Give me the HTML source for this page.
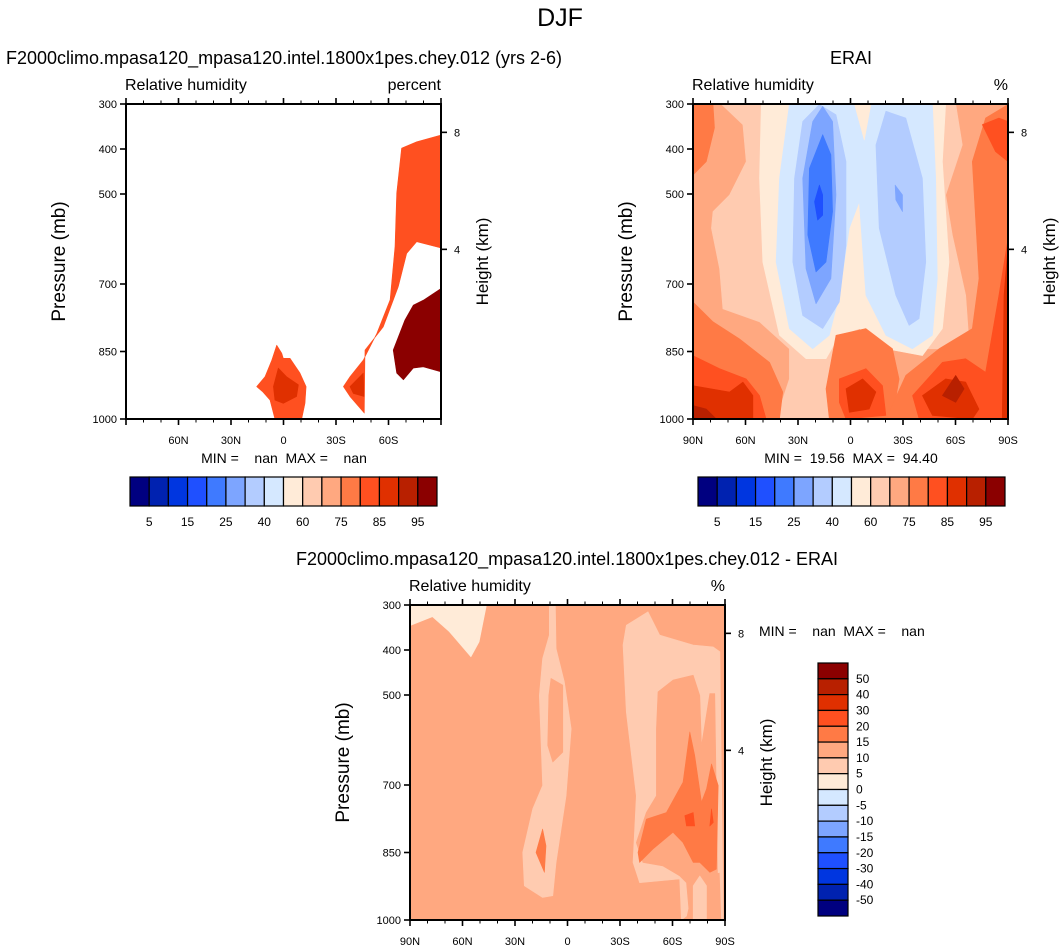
<!DOCTYPE html>
<html><head><meta charset="utf-8"><style>
html,body{margin:0;padding:0;background:#fff;}
svg{display:block;font-family:"Liberation Sans",sans-serif;}
</style></head><body>
<svg id="fig" width="1064" height="952" viewBox="0 0 1064 952" xmlns="http://www.w3.org/2000/svg">
<rect width="1064" height="952" fill="#fff"/>
<text x="560" y="26" font-size="25" text-anchor="middle">DJF</text>
</svg>
<script>
// ---- data ----
const rhLevels = ['5','15','25','40','60','75','85','95'];
const diffLevels = ['50','40','30','20','15','10','5','0','-5','-10','-15','-20','-30','-40','-50'];
const palette = ['#000080','#0022b0','#0036e0','#1f50ff','#3f7aff','#7da5ff','#b3ccff','#d5e8ff','#ffebd8','#ffcbb0','#ffa880','#ff7a45','#ff5020','#e03000','#b82000','#8b0000'];
const pressureTicks = [300,400,500,700,850,1000];
const heightTicks = [8,4];
const heightTickP = [363,623];
const latMajor = [90,60,30,0,-30,-60,-90];
const latLabels = ['90N','60N','30N','0','30S','60S','90S'];
const latMinor = [80,70,50,40,20,10,-10,-20,-40,-50,-70,-80];
const modelRegions = [
 [12, [[-67.5,398],[-76.1,384],[-90,369],[-90,620],[-76.1,606],[-70.4,632],[-65.6,706],[-57,795],[-46.6,847],[-46.2,987],[-38,950],[-34.2,928],[-38,906],[-45.6,869],[-53.3,810],[-60.9,735],[-63.7,617],[-64.7,498]]],
 [13, [[-38,928],[-45.6,898],[-46,950],[-39.9,943]]],
 [15, [[-62.7,847],[-69.4,780],[-74.2,747],[-79.9,736],[-90,710],[-90,895],[-79.9,884],[-74.2,887],[-68.5,913],[-64.7,898]]],
 [12, [[15.3,928],[10.6,906],[6.7,869],[3.9,836],[1.0,854],[0.1,865],[-3.7,865],[-9.4,898],[-12.9,928],[-12.3,965],[-10.4,1000],[4.9,1000],[7.7,958],[12,939]]],
 [13, [[5.8,928],[3.0,887],[-1.8,906],[-8.5,924],[-7.5,950],[0.1,965],[4.9,958]]]
];
const eraiBase = 10;
const eraiRegions = [
 [9, [[73.9,300],[61.5,346],[59.6,428],[69.1,502],[78.6,539],[79.5,576],[74.8,666],[72.9,755],[52,784],[34.9,844],[34.9,911],[42.5,1000],[8.3,1000],[14,933],[6.4,851],[-5,799],[-35.4,844],[-52.5,844],[-67.7,829],[-65.8,725],[-58.2,591],[-54.4,502],[-63.9,391],[-60.1,300]]],
 [8, [[51,300],[-54.4,300],[-52.5,428],[-56.3,651],[-52.5,799],[-41.1,859],[-20.2,844],[-5,799],[6.4,814],[14,866],[25.4,866],[40.6,814],[50.1,651],[52,465]]],
 [7, [[34.9,300],[-46.8,300],[-48.7,465],[-49.6,688],[-46.8,814],[-35.4,844],[-20.2,814],[-8.8,725],[-5,517],[0.7,576],[6.4,725],[12.1,814],[21.6,844],[34.9,799],[42.5,651],[40.6,465]]],
 [8, [[-2.2,300],[-11.7,300],[-7.9,380]]],
 [6, [[17.8,301],[8.3,324],[2.6,428],[2.6,614],[6.4,740],[15.9,799],[27.3,770],[33,651],[32,465],[27.3,339]]],
 [6, [[-20.2,316],[-31.6,331],[-41.1,465],[-43,651],[-39.2,777],[-33.5,792],[-25.9,725],[-16.4,576],[-14.5,391]]],
 [5, [[15.9,305],[10.2,339],[8.3,502],[11.2,688],[19.7,744],[25.4,666],[27.3,465],[21.6,339]]],
 [4, [[15.9,368],[11.2,413],[10.2,539],[14,651],[19.7,673],[24.4,591],[23.5,443]]],
 [3, [[17.8,480],[15.9,502],[15.9,547],[18.8,558],[20.6,517]]],
 [5, [[-25.5,480],[-29.7,502],[-29.7,539],[-25.9,513]]],
 [11, [[90,740],[78.6,784],[63.4,822],[46.3,874],[38.7,940],[40.6,1000],[90,1000]]],
 [11, [[90,300],[78.6,300],[77.7,353],[82.4,428],[90,458]]],
 [11, [[8.3,814],[-8.8,799],[-24,844],[-27.8,911],[-24,1000],[12.1,1000],[14,933]]],
 [11, [[-31.6,903],[-50.6,844],[-69.6,799],[-73.4,688],[-69.6,428],[-77.2,331],[-90,301],[-90,1000],[-20.2,1000]]],
 [12, [[90,859],[74.8,888],[59.6,911],[52,948],[48.2,1000],[90,1000]]],
 [12, [[6.4,911],[-8.8,888],[-18.3,926],[-20.2,992],[2.6,1000],[6.4,963]]],
 [12, [[-35.4,948],[-52.5,874],[-65.8,866],[-77.2,896],[-84.8,725],[-90,599],[-90,1000],[-39.2,1000]]],
 [12, [[-75.3,346],[-84.8,331],[-90,339],[-90,428],[-82.9,406]]],
 [13, [[90,926],[69.1,940],[61.5,918],[55.8,948],[55.8,1000],[90,1000]]],
 [13, [[2.6,933],[-6.9,911],[-14.5,940],[-10.7,978],[0.7,985]]],
 [13, [[-41.1,948],[-54.4,911],[-65.8,918],[-73.4,978],[-69.6,1000],[-46.8,992]]],
 [13, [[-87.7,725],[-90,614],[-90,1000],[-86.7,1000]]],
 [14, [[90,970],[82.4,978],[76.7,1000],[90,1000]]],
 [14, [[-52.5,948],[-60.1,903],[-64.9,933],[-60.1,963]]]
];
const diffBase = 10;
const diffRegions = [
 [8, [[89.6,345],[77.2,326],[67.6,359],[55.2,415],[50.5,382],[46.3,300],[90,300],[90,350]]],
 [9, [[10.4,300],[6.9,300],[6.5,397],[1.8,471],[-2.1,575],[0.8,724],[6.5,872],[8.4,946],[14.2,950],[24.7,924],[25.6,850],[19.9,753],[14.2,701],[16.1,501],[14.2,419],[10.4,367]]],
 [10, [[9.4,463],[2.7,478],[2.7,627],[8.4,649],[11.3,612],[10.7,501]]],
 [11, [[18,850],[14.2,798],[12.3,835],[13.2,894]]],
 [9, [[-33.6,345],[-46,315],[-52.7,367],[-71.8,389],[-83.2,393],[-87.1,404],[-89,1000],[-88,1000],[-87.1,894],[-77.5,902],[-71.8,924],[-68,991],[-65.1,1000],[-64.1,909],[-41.2,917],[-37.4,872],[-39.3,724],[-33.6,538],[-31.7,389]]],
 [10, [[-51.7,493],[-60.3,467],[-71.8,456],[-75.6,501],[-76.6,612],[-81.3,497],[-84.2,497],[-86.1,1000],[-69.9,1000],[-68,917],[-64.1,902],[-54.6,880],[-43.1,872],[-39.3,828],[-45,761],[-50.8,724],[-50.8,575]]],
 [9, [[-71.8,924],[-75.6,902],[-79.4,924],[-79.4,1000],[-71.8,1000]]],
 [11, [[-40.3,850],[-45,776],[-56.5,761],[-66,694],[-69.9,582],[-72.7,634],[-76.6,738],[-79.4,709],[-82.3,653],[-86.1,701],[-85.1,887],[-81.3,894],[-75.6,872],[-71.8,872],[-66,828],[-60.3,805],[-48.9,842],[-41.2,872]]],
 [12, [[-67,768],[-71.8,761],[-72.7,791],[-68,791]]],
 [12, [[-82.3,753],[-83.3,783],[-81.3,791]]]
];
</script>
<script>
const NS='http://www.w3.org/2000/svg';
const svg=document.getElementById('fig');
function mk(tag,attrs,parent){const e=document.createElementNS(NS,tag);for(const k in attrs)e.setAttribute(k,attrs[k]);(parent||svg).appendChild(e);return e;}
function txt(x,y,s,size,anchor,parent,extra){const t=mk('text',Object.assign({x:x,y:y,'font-size':size,'text-anchor':anchor||'start'},extra||{}),parent);t.textContent=s;return t;}
const W=315,H=315;
function panel(id,x0,y0,base,regions,opts){
  const g=mk('g',{});
  
  
  const xS=lat=>x0+(90-lat)/180*W;
  const yS=p=>y0+(p-300)/700*H;
  const cp=mk('clipPath',{id:id+'-clip'},g);
  mk('rect',{x:x0,y:y0,width:W,height:H},cp);
  const field=mk('g',{'clip-path':'url(#'+id+'-clip)'},g);
  
  
  const bg=mk('rect',{x:x0,y:y0,width:W,height:H,fill:base<0?'#fff':palette[base]},field);
  
  
  regions.forEach((r,i)=>{
    const pts=r[1].map(q=>xS(q[0]).toFixed(1)+','+yS(q[1]).toFixed(1)).join(' ');
    const pg=mk('polygon',{points:pts,fill:palette[r[0]],stroke:palette[r[0]],'stroke-width':0.6,'stroke-linejoin':'round'},field);
    
    
  });
  const fr=mk('rect',{x:x0,y:y0,width:W,height:H,fill:'none',stroke:'#000','stroke-width':2},g);
  
  
  latMajor.forEach((l,i)=>{
    mk('line',{x1:xS(l),x2:xS(l),y1:y0+H,y2:y0+H+6,stroke:'#000','stroke-width':1.6},g);
    mk('line',{x1:xS(l),x2:xS(l),y1:y0,y2:y0-6,stroke:'#000','stroke-width':1.6},g);
    if(opts.allLat||(l!==90&&l!==-90)){
      const t=txt(xS(l),y0+H+25,latLabels[i],11,'middle',g);
      
      
    }
  });
  latMinor.forEach(l=>{
    mk('line',{x1:xS(l),x2:xS(l),y1:y0+H,y2:y0+H+3.5,stroke:'#000','stroke-width':1},g);
    mk('line',{x1:xS(l),x2:xS(l),y1:y0,y2:y0-3.5,stroke:'#000','stroke-width':1},g);
  });
  pressureTicks.forEach(p=>{
    mk('line',{x1:x0,x2:x0-6,y1:yS(p),y2:yS(p),stroke:'#000','stroke-width':1.6},g);
    const t=txt(x0-9,yS(p)+4,String(p),11,'end',g);
    
    
  });
  heightTicks.forEach((h,i)=>{
    const y=yS(heightTickP[i]);
    mk('line',{x1:x0+W,x2:x0+W+6,y1:y,y2:y,stroke:'#000','stroke-width':1.6},g);
    const t=txt(x0+W+13,y+4,String(h),11,'start',g);
    
    
  });
  const py=y0+H/2;
  const yl=txt(0,0,'Pressure (mb)',19,'middle',g,{transform:'translate('+(x0-61)+','+py+') rotate(-90)'});
  
  
  const hl=txt(0,0,'Height (km)',17,'middle',g,{transform:'translate('+(x0+W+47)+','+py+') rotate(-90)'});
  
  
  const vl=txt(x0-1,y0-14,'Relative humidity',16,'start',g);
  
  
  const ul=txt(x0+W,y0-14,opts.units,16,'end',g);
  
  
  const tl=txt(opts.tx,y0-40,opts.title,18,'middle',g);
  
  
  return g;
}
panel('model-panel',126,104,-1,modelRegions,{allLat:false,units:'percent',title:'F2000climo.mpasa120_mpasa120.intel.1800x1pes.chey.012 (yrs 2-6)',tx:284});
panel('erai-panel',693,104,eraiBase,eraiRegions,{allLat:true,units:'%',title:'ERAI',tx:851});
panel('diff-panel',410,605,diffBase,diffRegions,{allLat:true,units:'%',title:'F2000climo.mpasa120_mpasa120.intel.1800x1pes.chey.012 - ERAI',tx:567});

let s;
s=txt(284,463,'MIN =    nan  MAX =    nan',14,'middle');


s.style.whiteSpace='pre';
s=txt(851,463,'MIN =  19.56  MAX =  94.40',14,'middle');


s.style.whiteSpace='pre';
s=txt(759,636,'MIN =    nan  MAX =    nan',14,'start');


s.style.whiteSpace='pre';

function hbar(name,x0){
  const g=mk('g',{});
  
  
  const bw=(437-130)/16;
  palette.forEach((c,i)=>{
    const r=mk('rect',{x:x0+i*bw,y:477,width:bw,height:29,fill:c,stroke:'#000','stroke-width':1.2},g);
    
    
  });
  rhLevels.forEach((l,i)=>{
    const t=txt(x0+(2*i+1)*bw,526,l,12,'middle',g);
    
    
  });
}
hbar('model-colorbar',130);
hbar('erai-colorbar',698);
(function(){
  const g=mk('g',{});
  
  
  const bh=(916-663)/16;
  palette.slice().reverse().forEach((c,i)=>{
    const r=mk('rect',{x:818,y:663+i*bh,width:30,height:bh,fill:c,stroke:'#000','stroke-width':1.2},g);
    
    
  });
  diffLevels.forEach((l,i)=>{
    const t=txt(856,663+(i+1)*bh+4,l,12,'start',g);
    
    
  });
})();
</script>
</body></html>
